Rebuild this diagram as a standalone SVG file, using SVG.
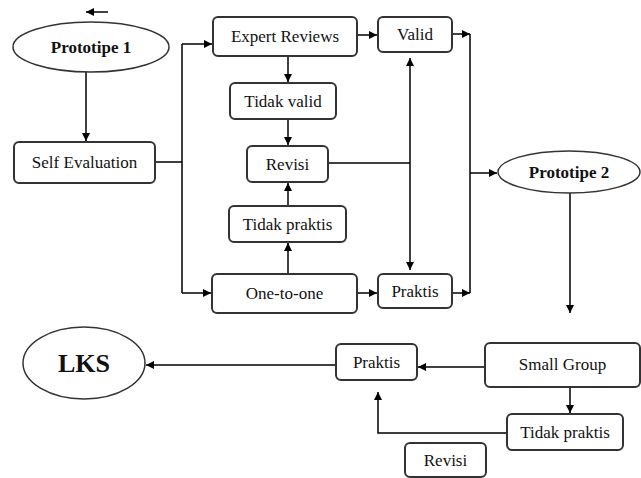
<svg xmlns="http://www.w3.org/2000/svg" width="641" height="478" viewBox="0 0 641 478">
<style>
.box{fill:#fff;stroke:#333;stroke-width:2}
.ell{fill:#fff;stroke:#333;stroke-width:1.5}
.t{font-family:"Liberation Serif","DejaVu Serif",serif;font-size:17px;fill:#111;text-anchor:middle}
.b{font-weight:bold}
.c{fill:none;stroke:#000;stroke-width:1.5}
.a{marker-end:url(#ah)}
</style>
<defs>
<marker id="ah" viewBox="0 0 10 10" refX="10" refY="5" markerWidth="9" markerHeight="8" markerUnits="userSpaceOnUse" orient="auto-start-reverse"><path d="M0,0 L10,5 L0,10 z" fill="#000"/></marker>
</defs>
<rect width="641" height="478" fill="#fff"/>
<g id="connectors">
<path class="c a" d="M108,12 H86"/>
<path class="c a" d="M86,72 V141"/>
<path class="c" d="M155,162 H182 M182,44 V293"/>
<path class="c a" d="M182,44 H212"/>
<path class="c a" d="M182,293 H211"/>
<path class="c a" d="M357,35 H377"/>
<path class="c a" d="M288,56 V82"/>
<path class="c a" d="M288,119 V145"/>
<path class="c a" d="M288,206 V183"/>
<path class="c a" d="M288,274 V243"/>
<path class="c" d="M328,163 H410"/>
<path class="c a" d="M410,58 V270" marker-start="url(#ah)"/>
<path class="c a" d="M452,34 H470"/>
<path class="c" d="M470,34 V293"/>
<path class="c a" d="M357,293 H377"/>
<path class="c a" d="M452,293 H470"/>
<path class="c a" d="M470,173 H497"/>
<path class="c a" d="M570,193 V313"/>
<path class="c a" d="M485,367 H418"/>
<path class="c a" d="M570,387 V413"/>
<path class="c a" d="M507,433 H378 V392"/>
<path class="c a" d="M336,365 H146"/>
</g>
<g id="prototipe1"><ellipse class="ell" cx="91" cy="47" rx="78" ry="25"/><text class="t b" x="91" y="53">Prototipe 1</text></g>
<g id="self-evaluation"><rect class="box" x="14" y="142" width="141" height="41" rx="5"/><text class="t" x="84.5" y="168">Self Evaluation</text></g>
<g id="expert-reviews"><rect class="box" x="213" y="17" width="144" height="39" rx="5"/><text class="t" x="285" y="42">Expert Reviews</text></g>
<g id="valid"><rect class="box" x="378" y="17" width="74" height="35" rx="5"/><text class="t" x="415" y="40">Valid</text></g>
<g id="tidak-valid"><rect class="box" x="230" y="83" width="106" height="36" rx="5"/><text class="t" x="283" y="107">Tidak valid</text></g>
<g id="revisi1"><rect class="box" x="247" y="146" width="81" height="36" rx="5"/><text class="t" x="287.5" y="170">Revisi</text></g>
<g id="tidak-praktis1"><rect class="box" x="229" y="206" width="117" height="36" rx="5"/><text class="t" x="287.5" y="230">Tidak praktis</text></g>
<g id="one-to-one"><rect class="box" x="212" y="274" width="145" height="39" rx="5"/><text class="t" x="284.5" y="299">One-to-one</text></g>
<g id="praktis1"><rect class="box" x="378" y="274" width="74" height="34" rx="5"/><text class="t" x="415" y="297">Praktis</text></g>
<g id="prototipe2"><ellipse class="ell" cx="569" cy="172" rx="71" ry="21"/><text class="t b" x="569" y="178">Prototipe 2</text></g>
<g id="small-group"><rect class="box" x="485" y="343" width="155" height="44" rx="5"/><text class="t" x="562.5" y="370">Small Group</text></g>
<g id="praktis2"><rect class="box" x="336" y="344" width="81" height="36" rx="5"/><text class="t" x="376.5" y="368">Praktis</text></g>
<g id="tidak-praktis2"><rect class="box" x="507" y="414" width="116" height="36" rx="5"/><text class="t" x="565" y="438">Tidak praktis</text></g>
<g id="revisi2"><rect class="box" x="405" y="443" width="81" height="34" rx="5"/><text class="t" x="445.5" y="466">Revisi</text></g>
<g id="lks"><ellipse class="ell" cx="84" cy="363" rx="61" ry="36"/><text class="t b" x="84" y="372" style="font-size:26px">LKS</text></g>
</svg>
